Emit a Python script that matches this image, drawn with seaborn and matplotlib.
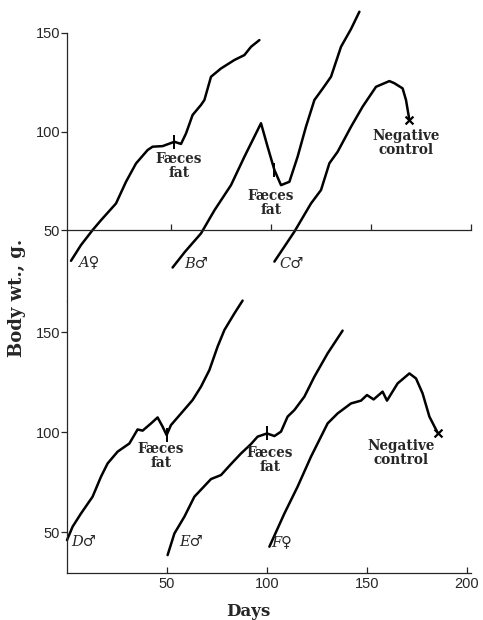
import matplotlib
matplotlib.use("Agg")
import matplotlib.pyplot as plt
import seaborn as sns
import pandas as pd

# ---- data (days, body weight in g) ----
a_days = [0, 5, 10.8, 15, 22.5, 27.5, 32.5, 38.3, 40.8, 45.8, 51.7, 55, 57.5, 60.8, 65, 66.7, 70, 75, 81.7, 86.7, 90, 94.2]
a_wt = [34.4, 42.4, 50, 55, 63.5, 74.5, 83.8, 90.6, 92.3, 92.6, 94.8, 93.7, 99, 108.4, 113.5, 116, 127.8, 132, 136.3, 138.8, 143, 146.4]

b_days = [50.8, 57, 65, 71.7, 80, 86.7, 91, 95, 98.3, 101.7, 105, 109.2, 113.3, 117.5, 121.7, 126, 130, 135, 140, 144.2]
b_wt = [31, 39, 48.3, 60, 72.8, 87.2, 96, 104.2, 92.3, 80.5, 72.8, 74.5, 87.2, 102.5, 116, 122, 127.8, 143, 152, 160.8]

c_days = [101.7, 111.7, 120, 125, 129.2, 133.3, 140, 145.8, 152.5, 159.2, 161.7, 165.8, 167.5, 169.2]
c_wt = [34, 49.2, 63.5, 70.3, 83.9, 89.7, 102.4, 112.6, 122.7, 125.6, 124.5, 121.9, 116, 105.8]

d_days = [0, 2.8, 7, 12.8, 17, 20.3, 25.3, 31.2, 35.3, 37.8, 42, 45.3, 47.8, 49.8, 52, 57.8, 62.8, 67, 71.2, 75.3, 78.7, 83.7, 87.8]
d_wt = [46, 52.7, 59.3, 67.7, 77.7, 84.3, 90.2, 94.3, 101.3, 100.7, 104.3, 107.3, 102.7, 98.5, 103.5, 110.2, 116, 122.7, 131, 142.7, 151, 159.3, 165.7]

e_days = [50.3, 53.7, 58.7, 63.7, 72, 77, 82, 87, 92, 95.3, 100, 103.7, 107, 110.3, 113.7, 118.7, 123.7, 130.3, 137.8]
e_wt = [38.5, 49.3, 57.7, 67.7, 76.5, 78.5, 84, 89.3, 94, 97.7, 99.3, 98, 100.2, 107.7, 111, 117.7, 127.7, 139.3, 150.7]

f_days = [101.2, 108.7, 115.3, 122, 130.3, 135.3, 142, 147, 150, 153.3, 157.8, 160, 165.3, 171.2, 174.5, 177.8, 181.2, 185.3]
f_wt = [42.7, 59.3, 72.7, 87.7, 104.3, 109.3, 114.3, 115.7, 118.5, 116.3, 120.2, 115.7, 124.3, 129.3, 126.8, 119.3, 107.7, 99.7]

curve_names = ["A♀", "B♂", "C♂", "D♂", "E♂", "F♀"]

# faeces-fat marks (day, weight) and negative-control end marks
fat_top_days = [51.7, 101.7]
fat_top_wt = [94.8, 80.5]
fat_bot_days = [49.8, 100]
fat_bot_wt = [98.5, 99.3]
neg_top_days = [169.2]
neg_top_wt = [105.8]
neg_bot_days = [185.3]
neg_bot_wt = [99.7]

y_ticks = [50, 100, 150]
x_ticks = [50, 100, 150, 200]

# ---- style ----
sns.set_style("ticks")
plt.rcParams['font.family'] = ['Liberation Sans', 'DejaVu Sans']
plt.rcParams['axes.linewidth'] = 0.9
plt.rcParams['xtick.major.width'] = 0.9
plt.rcParams['ytick.major.width'] = 0.9

W, H = 483, 620
fig = plt.figure(figsize=(W / 100, H / 100), dpi=100)
fig.patch.set_facecolor("white")

left = 67 / W
width = 404 / W
ax_top = fig.add_axes([left, 1 - 301 / H, width, 268 / H])
ax_bot = fig.add_axes([left, 1 - 572.7 / H, width, 271.7 / H])

serif_bold = dict(family=['DejaVu Serif', 'DejaVu Sans'], fontweight='bold')
lab_font = dict(family=['DejaVu Serif', 'DejaVu Sans'], style='italic', fontsize=10.5)
note_kw = dict(ha='center', va='center', fontsize=9.8, linespacing=0.95, **serif_bold)
LW = 1.8

def draw(ax, days, wt):
    df = pd.DataFrame({"day": days, "wt": wt})
    sns.lineplot(data=df, x="day", y="wt", ax=ax, color="black", lw=LW,
                 estimator=None, sort=False, clip_on=False,
                 solid_joinstyle='round', solid_capstyle='round')

# top panel
for d, w in [(a_days, a_wt), (b_days, b_wt), (c_days, c_wt)]:
    draw(ax_top, d, w)
ax_top.scatter(fat_top_days, fat_top_wt, marker='|', s=110, color='black', linewidths=1.4, clip_on=False, zorder=3)
ax_top.scatter(neg_top_days, neg_top_wt, marker='x', s=32, color='black', linewidths=1.6, clip_on=False, zorder=3)

ax_top.set_xlim(-2, 200)
ax_top.set_ylim(14, 150)
for s in ["top", "right"]:
    ax_top.spines[s].set_visible(False)
ax_top.spines["bottom"].set_position(("data", 50))
ax_top.set_xticks(x_ticks)
ax_top.tick_params(axis='x', direction='in', length=4, labelbottom=False)
ax_top.set_yticks(y_ticks)
ax_top.set_yticklabels([str(v) for v in y_ticks], fontsize=10.5)
ax_top.tick_params(axis='y', direction='out', length=4, pad=1)
ax_top.set_xlabel("")
ax_top.set_ylabel("")

ax_top.text(54, 82.5, "Fæces\nfat", **note_kw)
ax_top.text(100, 63.7, "Fæces\nfat", **note_kw)
ax_top.text(167.5, 94.2, "Negative\ncontrol", **note_kw)
ax_top.text(3.5, 33.8, curve_names[0], ha='left', va='center', **lab_font)
ax_top.text(56.5, 33, curve_names[1], ha='left', va='center', **lab_font)
ax_top.text(104, 33, curve_names[2], ha='left', va='center', **lab_font)

# bottom panel
for d, w in [(d_days, d_wt), (e_days, e_wt), (f_days, f_wt)]:
    draw(ax_bot, d, w)
ax_bot.scatter(fat_bot_days, fat_bot_wt, marker='|', s=110, color='black', linewidths=1.4, clip_on=False, zorder=3)
ax_bot.scatter(neg_bot_days, neg_bot_wt, marker='x', s=32, color='black', linewidths=1.6, clip_on=False, zorder=3)

ax_bot.set_xlim(0, 202)
ax_bot.set_ylim(29.7, 165.5)
for s in ["top", "right"]:
    ax_bot.spines[s].set_visible(False)
ax_bot.set_xticks(x_ticks)
ax_bot.set_xticklabels([str(v) for v in x_ticks], fontsize=10.5)
ax_bot.tick_params(axis='x', direction='in', length=4, pad=3)
ax_bot.set_yticks(y_ticks)
ax_bot.set_yticklabels([str(v) for v in y_ticks], fontsize=10.5)
ax_bot.tick_params(axis='y', direction='out', length=4, pad=1)
ax_bot.set_xlabel("")
ax_bot.set_ylabel("")

ax_bot.text(47, 88, "Fæces\nfat", **note_kw)
ax_bot.text(101.5, 86, "Fæces\nfat", **note_kw)
ax_bot.text(167, 89.5, "Negative\ncontrol", **note_kw)
ax_bot.text(2, 45, curve_names[3], ha='left', va='center', **lab_font)
ax_bot.text(56, 45, curve_names[4], ha='left', va='center', **lab_font)
ax_bot.text(102, 45, curve_names[5], ha='left', va='center', **lab_font)

fig.text(17 / W, 1 - 298 / H, "Body wt., g.", rotation=90, ha='center', va='center', fontsize=13, **serif_bold)
fig.text(248 / W, 1 - 612 / H, "Days", ha='center', va='center', fontsize=12, **serif_bold)

fig.savefig("out.png", dpi=100, facecolor="white")
